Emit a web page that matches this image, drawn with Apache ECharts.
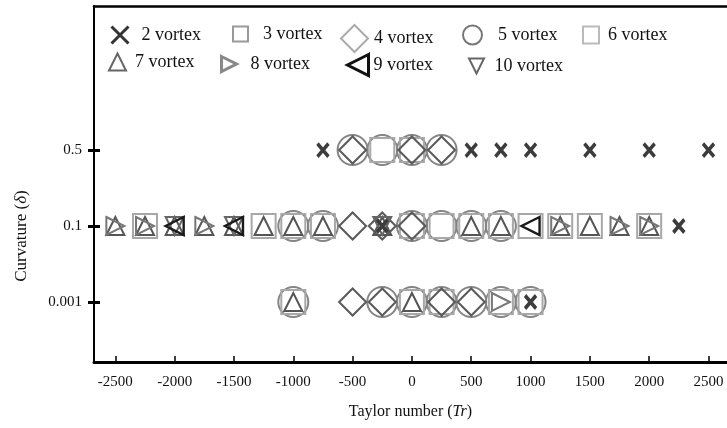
<!DOCTYPE html>
<html>
<head>
<meta charset="utf-8">
<script src="https://cdn.jsdelivr.net/npm/echarts@6/dist/echarts.min.js"></script>
<style>
  html, body { margin: 0; padding: 0; background: #fff; }
  #chart { width: 727px; height: 428px; }
</style>
</head>
<body>
<div id="chart"></div>
<script>
// Tick labels
const trTicks = [-2500, -2000, -1500, -1000, -500, 0, 500, 1000, 1500, 2000, 2500];
const curvatureTicks = ['0.001', '0.1', '0.5'];

// Observed flow regimes: [Taylor number, curvature]
const vortex2 = [[-750, '0.5'], [500, '0.5'], [750, '0.5'], [1000, '0.5'], [1500, '0.5'], [2000, '0.5'], [2500, '0.5'],
                 [-250, '0.1'], [2250, '0.1'], [1000, '0.001']];
const vortex3 = [[-250, '0.5'], [0, '0.5']];
const vortex4 = [[-500, '0.5'], [0, '0.5'], [250, '0.5'],
                 [-500, '0.1'], [-250, '0.1'], [0, '0.1'],
                 [-500, '0.001'], [-250, '0.001'], [250, '0.001'], [500, '0.001']];
const vortex5 = [[-500, '0.5'], [-250, '0.5'], [0, '0.5'], [250, '0.5'],
                 [-1000, '0.1'], [-750, '0.1'], [0, '0.1'], [250, '0.1'], [500, '0.1'], [750, '0.1'],
                 [-1000, '0.001'], [-250, '0.001'], [0, '0.001'], [250, '0.001'], [500, '0.001'], [750, '0.001'], [1000, '0.001']];
const vortex6 = [[-2250, '0.1'], [-1250, '0.1'], [-1000, '0.1'], [-750, '0.1'], [0, '0.1'], [250, '0.1'], [500, '0.1'],
                 [750, '0.1'], [1000, '0.1'], [1250, '0.1'], [1500, '0.1'], [2000, '0.1'],
                 [-1000, '0.001'], [0, '0.001'], [250, '0.001'], [750, '0.001'], [1000, '0.001']];
const vortex7 = [[-2500, '0.1'], [-2250, '0.1'], [-2000, '0.1'], [-1750, '0.1'], [-1500, '0.1'], [-1250, '0.1'],
                 [-1000, '0.1'], [-750, '0.1'], [-250, '0.1'], [500, '0.1'], [750, '0.1'], [1250, '0.1'],
                 [1500, '0.1'], [1750, '0.1'], [2000, '0.1'],
                 [-1000, '0.001'], [0, '0.001']];
const vortex8 = [[-2500, '0.1'], [-2250, '0.1'], [-1750, '0.1'], [1250, '0.1'], [1750, '0.1'], [2000, '0.1'],
                 [750, '0.001']];
const vortex9 = [[-2000, '0.1'], [-1500, '0.1'], [1000, '0.1']];
const vortex10 = [[-2000, '0.1'], [-1500, '0.1'], [-250, '0.1']];

const FONT = '"Liberation Serif", "Times New Roman", serif';
const toLevel = pts => pts.map(p => [p[0], curvatureTicks.indexOf(p[1]) + 1]);

const CROSS = 'path://M0,0L10,10M10,0L0,10';
const TRI_UP = 'path://M0,10L5,0L10,10Z';
const TRI_RIGHT = 'path://M0,0L10,5L0,10Z';
const TRI_LEFT = 'path://M10,0L0,5L10,10Z';
const TRI_DOWN = 'path://M0,0L10,0L5,10Z';

// Marker styles for each regime
const styles = {
  '2 vortex':  { symbol: CROSS,     size: [11, 13], color: '#3c3c3c', width: 3.6, legend: { icon: CROSS, w: 17, h: 17, color: '#333', bw: 3 } },
  '3 vortex':  { symbol: 'rect',    size: 24,       color: '#a8a8a8', width: 2,   legend: { icon: 'rect', w: 15, h: 15, color: '#999', bw: 2 } },
  '4 vortex':  { symbol: 'diamond', size: 27,       color: '#5a5a5a', width: 2,   legend: { icon: 'diamond', w: 27, h: 27, color: '#aaa', bw: 2 } },
  '5 vortex':  { symbol: 'circle',  size: 30,       color: '#858585', width: 2,   legend: { icon: 'circle', w: 19, h: 21, color: '#777', bw: 2 } },
  '6 vortex':  { symbol: 'rect',    size: 24,       color: '#a8a8a8', width: 2,   legend: { icon: 'rect', w: 16, h: 17, color: '#bbb', bw: 2 } },
  '7 vortex':  { symbol: TRI_UP,    size: [18, 18], color: '#555',    width: 2,   legend: { icon: TRI_UP, w: 17, h: 21, color: '#666', bw: 2 } },
  '8 vortex':  { symbol: TRI_RIGHT, size: [18, 18], color: '#777',    width: 2,   legend: { icon: TRI_RIGHT, w: 21, h: 15, color: '#888', bw: 3 } },
  '9 vortex':  { symbol: TRI_LEFT,  size: [18, 18], color: '#1a1a1a', width: 2.4, legend: { icon: TRI_LEFT, w: 21, h: 21, color: '#111', bw: 3 } },
  '10 vortex': { symbol: TRI_DOWN,  size: [18, 18], color: '#666',    width: 2,   legend: { icon: TRI_DOWN, w: 22, h: 15, color: '#666', bw: 2 } }
};

const seriesData = {
  '2 vortex': vortex2, '3 vortex': vortex3, '4 vortex': vortex4, '5 vortex': vortex5, '6 vortex': vortex6,
  '7 vortex': vortex7, '8 vortex': vortex8, '9 vortex': vortex9, '10 vortex': vortex10
};

// Draw order: big outlines behind, small marks on top
const drawOrder = ['5 vortex', '6 vortex', '3 vortex', '4 vortex', '7 vortex', '8 vortex', '10 vortex', '9 vortex', '2 vortex'];

const series = drawOrder.map(name => {
  const s = styles[name];
  return {
    name: name,
    type: 'scatter',
    data: toLevel(seriesData[name]),
    symbol: s.symbol,
    symbolSize: s.size,
    itemStyle: { color: 'rgba(0,0,0,0)', borderColor: s.color, borderWidth: s.width, opacity: 1 },
    silent: true
  };
});

// Legend placement: [name, icon left, row centre y, text start x]
const legendPlaces = [
  ['2 vortex', 110, 35, 140], ['3 vortex', 232, 34, 262], ['4 vortex', 340, 35, 373],
  ['5 vortex', 462, 35, 497], ['6 vortex', 582, 35, 607],
  ['7 vortex', 108, 62, 134], ['8 vortex', 220, 64, 252], ['9 vortex', 346, 64, 372],
  ['10 vortex', 468, 66, 497]
];

const legends = legendPlaces.map(([name, left, cy, textX]) => {
  const L = styles[name].legend;
  return {
    left: left,
    top: cy - 11,
    padding: 0,
    itemWidth: L.w,
    itemHeight: L.h,
    selectedMode: false,
    data: [{ name: name, icon: L.icon,
             itemStyle: { color: 'rgba(0,0,0,0)', borderColor: L.color, borderWidth: L.bw } }],
    textStyle: { fontFamily: FONT, fontSize: 18, color: '#111', lineHeight: 22,
                 padding: [0, 0, 0, Math.max(0, textX - left - L.w - 5)] }
  };
});

const chart = echarts.init(document.getElementById('chart'), null, { renderer: 'canvas' });
chart.setOption({
  animation: false,
  backgroundColor: '#fff',
  grid: { left: 94, right: 0, top: 6, bottom: 66, containLabel: false },
  legend: legends,
  xAxis: [{
    type: 'value',
    min: -2680, max: 2656,
    position: 'bottom',
    axisLine: { show: true, onZero: false, lineStyle: { color: '#000', width: 3 } },
    axisTick: { show: true, inside: true, length: 6, customValues: trTicks, lineStyle: { color: '#000', width: 1.5 } },
    axisLabel: { customValues: trTicks, formatter: v => String(v), fontFamily: FONT, fontSize: 15, color: '#111', margin: 13 },
    splitLine: { show: false },
    name: '{n|Taylor number (}{i|Tr}{n|)}',
    nameLocation: 'middle',
    nameGap: 42,
    nameTextStyle: {
      rich: {
        n: { fontFamily: FONT, fontSize: 16, color: '#111' },
        i: { fontFamily: FONT, fontSize: 16, fontStyle: 'italic', color: '#111' }
      }
    }
  }, {
    type: 'value',
    min: -2680, max: 2656,
    position: 'top',
    axisLine: { show: true, onZero: false, lineStyle: { color: '#000', width: 2.5 } },
    axisTick: { show: false },
    axisLabel: { show: false },
    splitLine: { show: false }
  }],
  yAxis: [{
    type: 'value',
    min: 0.2105, max: 4.895,
    position: 'left',
    axisLine: { show: true, onZero: false, lineStyle: { color: '#000', width: 2 } },
    axisTick: { show: true, length: 6, customValues: [1, 2, 3], lineStyle: { color: '#000', width: 3 } },
    axisLabel: { customValues: [1, 2, 3], formatter: v => curvatureTicks[Math.round(v) - 1] || '',
                 fontFamily: FONT, fontSize: 15, color: '#111', margin: 12 },
    splitLine: { show: false }
  }, {
    type: 'value',
    min: 0.2105, max: 4.895,
    position: 'left',
    axisLine: { show: false, onZero: false },
    axisTick: { show: true, inside: true, length: 6, customValues: [1, 2, 3], lineStyle: { color: '#000', width: 3 } },
    axisLabel: { show: false },
    splitLine: { show: false }
  }],
  graphic: [{
    type: 'text',
    x: 22, y: 236,
    rotation: Math.PI / 2,
    style: {
      text: '{n|Curvature (}{i|δ}{n|)}',
      align: 'center',
      verticalAlign: 'middle',
      rich: {
        n: { fontFamily: FONT, fontSize: 17, fill: '#111' },
        i: { fontFamily: FONT, fontSize: 17, fontStyle: 'italic', fill: '#111' }
      }
    }
  }],
  series: series
});
</script>
</body>
</html>
